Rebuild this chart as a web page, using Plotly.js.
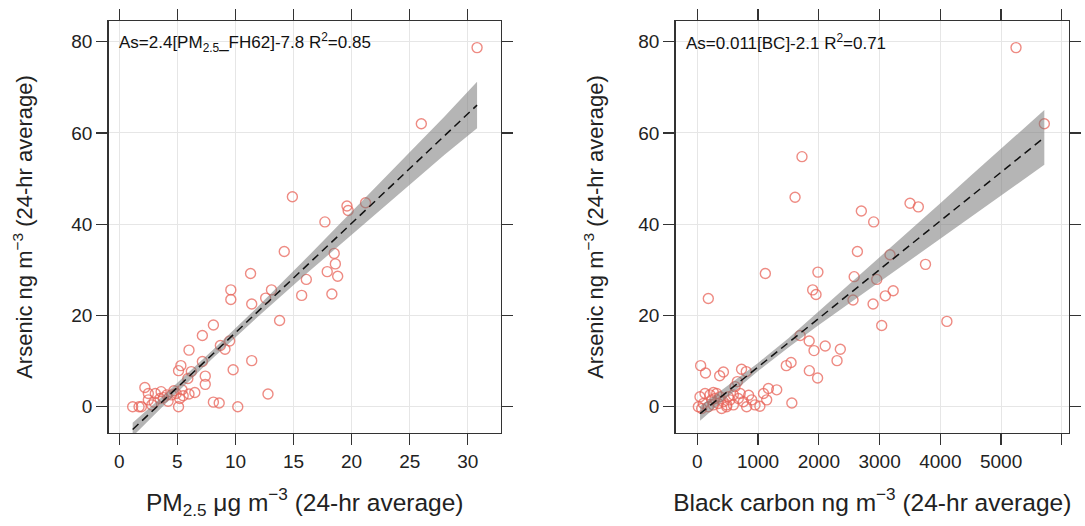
<!DOCTYPE html>
<html>
<head>
<meta charset="utf-8">
<script src="https://cdn.plot.ly/plotly-3.0.1.min.js"></script>
<style>html,body{margin:0;padding:0;background:#fff;}#chart{width:1085px;height:526px;}</style>
</head>
<body>
<div id="chart"></div>
<script>
// ---- Left panel: PM2.5 vs Arsenic ----
const pmX = [30.8, 26.0, 14.9, 19.6, 19.7, 21.2, 17.7, 14.2, 18.5, 18.6, 17.9, 18.8, 16.1, 11.3, 9.6, 9.6,
  13.1, 12.6, 11.4, 15.7, 18.3, 13.8, 8.1, 7.15, 6.0, 8.7, 9.5, 9.1, 11.4, 9.8, 12.8, 10.2, 8.1, 8.6,
  7.15, 7.4, 7.4, 6.5, 5.3, 5.1, 6.2, 5.9, 5.4, 5.1, 2.2, 2.5, 1.15, 1.7, 2.5, 1.9, 3.1, 3.6, 4.1, 4.5,
  4.9, 5.2, 3.0, 3.5, 4.2, 4.7, 5.5, 2.8, 3.8, 6.0];
const pmAs = [78.7, 62.0, 46.0, 44.0, 43.0, 44.7, 40.5, 34.0, 33.6, 31.3, 29.6, 28.6, 27.9, 29.2, 25.6, 23.5,
  25.6, 23.8, 22.5, 24.4, 24.7, 18.9, 17.9, 15.6, 12.4, 13.4, 14.4, 12.6, 10.1, 8.1, 2.8, 0.0, 1.0, 0.8,
  9.9, 6.7, 4.9, 3.1, 9.0, 7.9, 7.7, 6.2, 3.7, 0.0, 4.2, 2.9, 0.0, 0.0, 1.5, 0.0, 2.9, 3.3, 2.6, 2.6,
  2.9, 1.8, 1.0, 1.8, 1.2, 3.5, 2.4, 0.4, 2.0, 2.8];
const pmFitX = [1.15, 30.8];
const pmFitY = [-5.0, 66.1];
const pmBandX = [1.15, 4, 8, 12, 16, 20, 24, 28, 30.8];
const pmBandLo = [-6.5, 0.7, 10.5, 19.9, 28.9, 37.7, 46.5, 55.2, 61.0];
const pmBandHi = [-3.5, 2.9, 12.3, 22.1, 32.3, 42.7, 53.1, 63.6, 71.2];

// ---- Right panel: Black carbon vs Arsenic ----
const bcX = [5246, 5712, 1723, 1609, 3501, 3638, 2700, 2903, 2635, 3172, 3756, 1120, 1985, 2582, 2953, 1899,
  1954, 3224, 3095, 2563, 2893, 181, 3035, 4108, 1692, 1841, 2105, 1921, 2354, 2300, 1465, 1543, 1844,
  1980, 1556, 55, 135, 368, 430, 728, 806, 659, 1307, 1170, 1090, 1142, 950, 1030, 895, 845, 706, 675,
  538, 593, 620, 44, 127, 209, 291, 373, 99, 182, 264, 346, 428, 483, 17, 72, 236, 319, 401, 510, 593,
  758, 812, 264, 484];
const bcAs = [78.7, 62.0, 54.8, 45.9, 44.6, 43.8, 42.9, 40.5, 34.0, 33.3, 31.2, 29.2, 29.5, 28.5, 27.9, 25.6,
  24.6, 25.4, 24.3, 23.4, 22.5, 23.7, 17.8, 18.7, 15.6, 14.4, 13.3, 12.3, 12.6, 10.1, 9.0, 9.7, 7.9,
  6.3, 0.8, 9.0, 7.4, 6.8, 7.6, 8.2, 7.7, 5.5, 3.7, 4.0, 2.9, 1.5, 0.4, 0.1, 1.5, 2.5, 2.9, 1.8,
  1.5, 2.6, 4.4, 2.2, 2.9, 2.6, 1.8, 2.2, 0.7, 0.0, 0.4, 0.7, 1.1, 0.0, 0.0, -0.4, 1.5, 2.9, -0.4, 2.2, 0.4,
  1.1, 0.0, 3.1, 0.4];
const bcFitX = [45, 5712];
const bcFitY = [-1.5, 59.0];
const bcBandX = [45, 500, 1000, 1500, 2000, 2500, 3000, 3500, 4000, 4500, 5000, 5712];
const bcBandLo = [-3.1, 2.2, 7.8, 13.0, 17.9, 22.7, 27.5, 32.2, 36.9, 41.6, 46.3, 53.0];
const bcBandHi = [0.1, 4.6, 9.6, 15.0, 20.9, 26.7, 32.7, 38.6, 44.6, 50.6, 56.5, 65.0];

const yTicks = [0, 20, 40, 60, 80];
const pmTicks = [0, 5, 10, 15, 20, 25, 30];
const bcTicks = [0, 1000, 2000, 3000, 4000, 5000, 6000];
const bcTickText = ['0', '1000', '2000', '3000', '4000', '5000', ' '];

const FONT = '"Liberation Sans", Arial, Helvetica, sans-serif';
const ptColor = 'rgba(232,100,90,0.75)';

function polyX(xs) { return xs.concat(xs.slice().reverse()); }
function polyY(lo, hi) { return hi.concat(lo.slice().reverse()); }

const traces = [
  {x: pmX, y: pmAs, xaxis: 'x', yaxis: 'y', type: 'scatter', mode: 'markers',
   marker: {symbol: 'circle-open', size: 10, color: ptColor, line: {width: 1.4, color: ptColor}}, hoverinfo: 'skip'},
  {x: polyX(pmBandX), y: polyY(pmBandLo, pmBandHi), xaxis: 'x', yaxis: 'y', type: 'scatter', mode: 'lines',
   fill: 'toself', fillcolor: 'rgba(120,120,120,0.55)', line: {width: 0}, hoverinfo: 'skip'},
  {x: pmFitX, y: pmFitY, xaxis: 'x', yaxis: 'y', type: 'scatter', mode: 'lines',
   line: {color: '#111', width: 1.5, dash: '8px,5px'}, hoverinfo: 'skip'},
  {x: bcX, y: bcAs, xaxis: 'x2', yaxis: 'y2', type: 'scatter', mode: 'markers',
   marker: {symbol: 'circle-open', size: 10, color: ptColor, line: {width: 1.4, color: ptColor}}, hoverinfo: 'skip'},
  {x: polyX(bcBandX), y: polyY(bcBandLo, bcBandHi), xaxis: 'x2', yaxis: 'y2', type: 'scatter', mode: 'lines',
   fill: 'toself', fillcolor: 'rgba(120,120,120,0.55)', line: {width: 0}, hoverinfo: 'skip'},
  {x: bcFitX, y: bcFitY, xaxis: 'x2', yaxis: 'y2', type: 'scatter', mode: 'lines',
   line: {color: '#111', width: 1.5, dash: '8px,5px'}, hoverinfo: 'skip'}
];

const axCommon = {
  showline: true, linecolor: '#333', linewidth: 1.3, mirror: 'ticks',
  ticks: 'outside', ticklen: 11, tickwidth: 1.2, tickcolor: '#333',
  showgrid: true, gridcolor: '#E6E6E6', gridwidth: 1, zeroline: false,
  tickfont: {family: FONT, size: 19, color: '#222'}
};
const yTitle = 'Arsenic ng m<sup>\u22123</sup> (24-hr average)';

const layout = {
  width: 1085, height: 526,
  margin: {l: 0, r: 0, t: 0, b: 0},
  paper_bgcolor: '#fff', plot_bgcolor: '#fff',
  showlegend: false,
  font: {family: FONT, color: '#222'},
  xaxis: Object.assign({}, axCommon, {
    domain: [108.5/1085, 501/1085], range: [-0.93, 32.86], anchor: 'y',
    tickvals: pmTicks,
    title: {text: 'PM<sub>2.5</sub> \u03bcg m<sup>\u22123</sup> (24-hr average)', font: {family: FONT, size: 24.5, color: '#222'}, standoff: 22}
  }),
  yaxis: Object.assign({}, axCommon, {
    domain: [93/526, 505/526], range: [-5.76, 84.53], anchor: 'x',
    tickvals: yTicks,
    title: {text: yTitle, font: {family: FONT, size: 22, color: '#222'}, standoff: 32}
  }),
  xaxis2: Object.assign({}, axCommon, {
    domain: [675.5/1085, 1069/1085], range: [-359, 6118], anchor: 'y2',
    tickvals: bcTicks, ticktext: bcTickText,
    title: {text: 'Black carbon ng m<sup>\u22123</sup> (24-hr average)', font: {family: FONT, size: 24.5, color: '#222'}, standoff: 22}
  }),
  yaxis2: Object.assign({}, axCommon, {
    domain: [93/526, 505/526], range: [-5.76, 84.53], anchor: 'x2',
    tickvals: yTicks,
    title: {text: yTitle, font: {family: FONT, size: 22, color: '#222'}, standoff: 28}
  }),
  annotations: [
    {xref: 'x domain', yref: 'y domain', x: 0.022, y: 0.949, xanchor: 'left', yanchor: 'middle', showarrow: false,
     text: 'As=2.4[PM<sub>2.5</sub>_FH62]-7.8 R<sup>2</sup>=0.85', font: {family: FONT, size: 17, color: '#111'}},
    {xref: 'x2 domain', yref: 'y2 domain', x: 0.022, y: 0.949, xanchor: 'left', yanchor: 'middle', showarrow: false,
     text: 'As=0.011[BC]-2.1 R<sup>2</sup>=0.71', font: {family: FONT, size: 17, color: '#111'}}
  ]
};

Plotly.newPlot('chart', traces, layout, {staticPlot: true, displayModeBar: false});
</script>
</body>
</html>
